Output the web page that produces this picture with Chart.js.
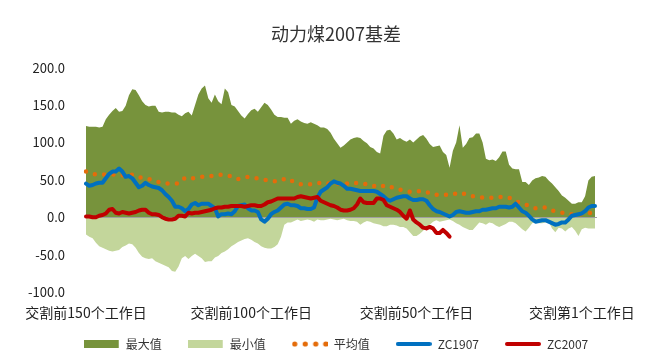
<!DOCTYPE html>
<html><head><meta charset="utf-8">
<script src="https://cdn.jsdelivr.net/npm/chart.js@4/dist/chart.umd.min.js"></script>
<style>html,body{margin:0;padding:0;background:#fff}#wrap{width:663px;height:363px;position:relative}</style>
</head><body><div id="wrap"><canvas id="c"></canvas></div>
<script>
const chartTitle = '动力煤2007基差';
const seriesNames = ['最大值', '最小值', '平均值', 'ZC1907', 'ZC2007'];
const xTickIndex = [0, 50, 100, 150];
const xTickLabels = ['交割前150个工作日', '交割前100个工作日', '交割前50个工作日', '交割第1个工作日'];
const yMin = -100, yMax = 200, yStep = 50;

const maxVals = [
 122,121,121,121,120,121,131,137,142,146,141,142,149,163,171,170,163,155,150,148,149,149,141,140,141,141,
 140,140,137,135,139,141,136,150,164,172,176,159,153,164,155,151,172,167,150,148,142,136,132,138,143,145,
 141,147,153,150,144,137,134,
 134,133,133,125,129,131,128,126,125,127,125,123,120,120,118,113,105,99,93,
 96,100,104,106,107,106,102,99,94,92,87,85,109,116,117,112,104,106,103,101,104,100,104,108,110,
 105,98,94,95,96,87,83,66,
 89,100,123,
 93,98,106,107,112,112,100,78,76,77,75,80,88,88,70,
 65,64,64,47,47,43,49,52,53,55,54,49,45,40,35,29,26,22,18,18,20,20,28,49,54,55
];
const minVals = [
 -23,-26,-28,-34,-39,-41,-43,-45,-46,-45,-44,-40,-38,-35,-36,-41,-48,-53,-55,-56,-55,-59,-61,-63,-65,-67,
 -72,-73,-66,-55,-52,-56,-52,-49,-52,-55,-60,-59,-59,-54,-52,-48,-46,-43,-39,-36,-33,-31,-29,-28,-30,-33,-35,-39,-41,-42,
 -42,-40,-36,-26,-10,
 -7,-7,-5,-3,-5,-4,-3,-4,-6,-3,-4,-4,-3,-2,-3,-4,-3,-2,-4,
 -5,-5,-6,-10,-7,-5,-6,-8,-9,-10,-12,-12,-10,-10,-11,-13,-13,-15,-20,-25,-25,-22,-18,-13,-10,-6,-4,-6,-5,-4,-3,-5,
 -8,-10,-13,-15,-17,-17,-12,-7,-8,-10,-7,-8,-11,-13,-11,-9,-6,-6,-8,-12,-16,-19,-14,-8,-6,-8,-8,-7,-6,-15,-20,-14,-15,-19,-15,-13,-18,-25,-16,-14,-15,-15,-15
];
const avgVals = [
 61,60,58,57,57,57,57,57,57,57,
 56,56,56,56,57,56,54,52,51,51,
 50,48,47,46,45,45,45,45,45,49,
 53,53,52,52,53,54,54,55,55,56,
 56,57,56,55,55,53,51,52,53,54,
 53,52,52,51,50,49,48,48,48,50,
 51,52,49,47,45,44,44,44,44,44,
 45,46,46,45,45,45,45,45,45,45,
 44,45,46,46,45,44,44,42,41,40,
 42,43,41,39,37,37,36,35,34,34,
 34,35,35,34,32,30,30,30,30,30,
 30,30,32,33,32,30,29,28,27,27,
 26,26,26,26,27,27,27,27,26,24,
 21,20,18,17,15,13,12,12,13,13,
 11,9,8,7,6,5,5,4,4,4,
 4,5,5,6,6
];
const zc1907Vals = [
 45,42,43,45,46,46,52,58,61,61,65,61,54,55,52,46,40,42,46,43,41,40,39,36,31,27,
 22,14,14,12,8,11,17,19,16,18,18,18,15,12,1,4,4,5,4,8,15,16,17,12,9,9,
 7,-3,-6,-2,
 4,7,9,13,17,18,16,16,15,12,12,11,11,13,26,34,37,40,45,48,46,45,
 42,38,38,37,36,35,35,35,35,35,34,31,28,24,22,24,26,27,28,28,25,23,23,24,24,
 22,16,11,8,7,5,3,1,3,7,8,7,6,6,7,8,8,10,10,11,12,12,14,14,14,13,
 14,18,13,8,6,2,-3,-6,-5,-4,-4,-6,-8,-10,-9,-7,-7,-3,2,3,4,5,8,13,15,15
];
const zc2007Vals = [
 1,1,0,0,2,3,5,10,11,6,5,7,6,5,6,7,9,10,10,6,4,4,3,0,-2,-3,
 -3,-2,2,2,1,6,5,6,6,7,8,9,10,12,13,13,14,14,15,
 15,15,15,14,15,16,16,15,15,17,20,21,23,25,
 25,25,25,25,25,27,28,27,26,25,26,27,22,20,18,16,15,13,
 10,9,9,10,12,17,25,20,19,19,19,25,25,23,16,14,12,10,
 7,2,-2,9,-3,-7,-10,-14,-15,-13,-15,-21,-21,-17,-21,-26
];

const categories = [];
for (let i = 0; i < maxVals.length; i++) {
  categories.push(i < 150 ? '交割前' + (150 - i) + '个工作日' : '交割第' + (i - 149) + '个工作日');
}

const C_MAX = '#77933C', C_MIN = '#C3D69B', C_AVG = '#E46C0A', C_1907 = '#0070C0', C_2007 = '#C00000';
const FONT = "'Noto Sans CJK SC', 'Noto Sans', sans-serif";
Chart.defaults.font.family = FONT;

function marker(kind, color) {
  const cv = document.createElement('canvas');
  cv.width = 36; cv.height = 10;
  const g = cv.getContext('2d');
  if (kind === 'box') { g.fillStyle = color; g.fillRect(0, 1, 35, 8); }
  else if (kind === 'dots') { g.fillStyle = color; [3, 13.5, 24, 34].forEach(x => { g.beginPath(); g.arc(x, 5, 2.6, 0, Math.PI * 2); g.fill(); }); }
  else { g.strokeStyle = color; g.lineWidth = 4; g.lineCap = 'round'; g.beginPath(); g.moveTo(2, 5); g.lineTo(34, 5); g.stroke(); }
  return cv;
}
const markers = [marker('box', C_MAX), marker('box', C_MIN), marker('dots', C_AVG), marker('line', C_1907), marker('line', C_2007)];

const zeroLine = {
  id: 'zeroLine',
  afterDatasetDraw(chart, args) {
    if (args.index !== 1) return;
    const {ctx, chartArea: {left, right}, scales: {y}} = chart;
    const yy = Math.round(y.getPixelForValue(0)) + 0.5;
    ctx.save(); ctx.strokeStyle = '#A0A0A0'; ctx.lineWidth = 1.2;
    ctx.beginPath(); ctx.moveTo(left, yy); ctx.lineTo(right + 2, yy); ctx.stroke(); ctx.restore();
  }
};

new Chart(document.getElementById('c'), {
  type: 'line',
  data: {
    labels: categories,
    datasets: [
      {label: seriesNames[0], data: maxVals, fill: 'origin', backgroundColor: C_MAX, borderWidth: 0, pointRadius: 0, order: 5},
      {label: seriesNames[1], data: minVals, fill: 'origin', backgroundColor: C_MIN, borderWidth: 0, pointRadius: 0, order: 4},
      {label: seriesNames[2], data: avgVals, fill: false, borderColor: C_AVG, borderWidth: 4.5, borderDash: [0, 9.3], borderCapStyle: 'round', pointRadius: 0, order: 3},
      {label: seriesNames[3], data: zc1907Vals, fill: false, borderColor: C_1907, borderWidth: 4, borderJoinStyle: 'round', borderCapStyle: 'round', pointRadius: 0, order: 2},
      {label: seriesNames[4], data: zc2007Vals, fill: false, borderColor: C_2007, borderWidth: 4, borderJoinStyle: 'round', borderCapStyle: 'round', pointRadius: 0, order: 1}
    ]
  },
  options: {
    responsive: true, maintainAspectRatio: false, animation: false,
    layout: {padding: {left: 26, right: 17, top: 0, bottom: 3}},
    plugins: {
      title: {display: true, text: chartTitle, color: '#333', font: {size: 18, weight: 'normal'}, padding: {top: 23, bottom: 23}},
      legend: {
        position: 'bottom',
        labels: {
          usePointStyle: true, pointStyleWidth: 36, padding: 26, color: '#333', font: {size: 12},
          generateLabels: (chart) => chart.data.datasets.map((ds, i) => ({
            text: ds.label, pointStyle: markers[i], datasetIndex: i, hidden: false,
            fillStyle: 'rgba(0,0,0,0)', strokeStyle: 'rgba(0,0,0,0)', lineWidth: 0, fontColor: '#333'
          }))
        }
      },
      tooltip: {enabled: false}
    },
    scales: {
      x: {
        type: 'category', position: {y: yMin},
        grid: {display: false, drawTicks: false}, border: {display: false},
        ticks: {autoSkip: false, maxRotation: 0, minRotation: 0, padding: 12, color: '#222', font: {size: 14},
          callback: (v, i) => { const k = xTickIndex.indexOf(i); return k >= 0 ? xTickLabels[k] : ''; }}
      },
      xB: {
        type: 'linear', axis: 'x', position: 'bottom', display: true,
        grid: {display: false, drawTicks: false}, border: {display: false}, ticks: {display: false},
        afterFit: (s) => { s.height = 20; }
      },
      y: {
        min: yMin, max: yMax,
        grid: {display: false, drawTicks: false}, border: {display: false},
        ticks: {stepSize: yStep, padding: 21, color: '#222', font: {size: 13}, callback: (v) => Number(v).toFixed(1)},
        afterFit: (s) => { s.width = 60; }
      },
      yR: {
        position: 'right', display: true,
        grid: {display: false, drawTicks: false}, border: {display: false}, ticks: {display: false},
        afterFit: (s) => { s.width = 51; }
      }
    }
  },
  plugins: [zeroLine]
});
</script>
</body></html>
